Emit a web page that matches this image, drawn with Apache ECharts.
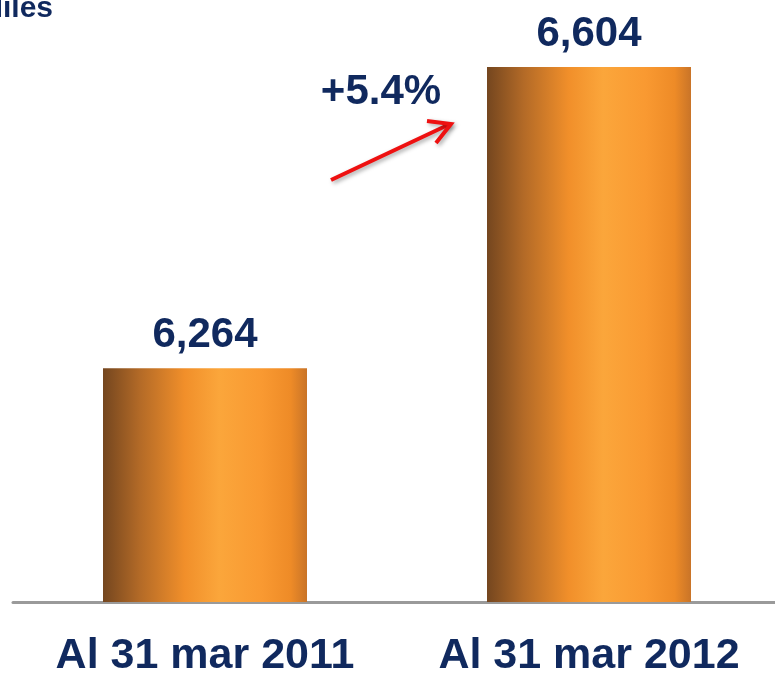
<!DOCTYPE html>
<html>
	<head>
		<meta charset="UTF-8">
		<title>Al 31 mar</title>
		<script src="https://cdn.jsdelivr.net/npm/echarts@6/dist/echarts.min.js"></script>
		<style>
			html, body { margin: 0; padding: 0; background: #fff; }
			#chart { width: 775px; height: 673px; }
		</style>
	</head>
	<body>
		<div id="chart"></div>
		<script type="text/javascript">
			var categories = ['Al 31 mar 2011', 'Al 31 mar 2012'];
			var values = [6264, 6604];
			var changeText = '+5.4%';
			var unitText = 'Miles';

			var navy = '#10295e';
			var font = "'Liberation Sans', Arial, sans-serif";

			// barra con efecto cilindro
			var barColor = new echarts.graphic.LinearGradient(0, 0, 1, 0, [
				{offset: 0, color: '#74461f'},
				{offset: 0.18, color: '#b36a27'},
				{offset: 0.4, color: '#f18f2a'},
				{offset: 0.57, color: '#fba63b'},
				{offset: 0.78, color: '#f99931'},
				{offset: 0.92, color: '#ee8b27'},
				{offset: 1, color: '#c97428'}
			]);

			var myChart = echarts.init(document.getElementById('chart'));

			option = {
				animation: false,
				grid: {
					left: 13,
					right: -6,
					top: 67,
					bottom: 71,
					outerBoundsMode: 'none'
				},
				xAxis: {
					type: 'category',
					data: categories,
					axisTick: {show: false},
					axisLine: {lineStyle: {color: '#9a9a9a', width: 3}},
					axisLabel: {
						interval: 0,
						hideOverlap: false,
						margin: 33,
						color: navy,
						fontFamily: font,
						fontWeight: 'bold',
						fontSize: 43
					}
				},
				yAxis: {
					type: 'value',
					min: 6000,
					max: 6604,
					show: false,
					splitLine: {show: false}
				},
				series: [
					{
						type: 'bar',
						data: values,
						barWidth: 204,
						itemStyle: {color: barColor},
						label: {
							show: true,
							position: 'top',
							distance: 12,
							color: navy,
							fontFamily: font,
							fontWeight: 'bold',
							fontSize: 42,
							formatter: function(p) {
								return p.value.toLocaleString('en-US');
							}
						}
					}
				],
				graphic: [
					{
						type: 'text',
						x: 53,
						y: 24,
						style: {
							text: unitText,
							fill: navy,
							font: 'bold 30px ' + font,
							textAlign: 'right',
							textVerticalAlign: 'bottom'
						}
					},
					{
						type: 'text',
						x: 381,
						y: 92,
						style: {
							text: changeText,
							fill: navy,
							font: 'bold 42px ' + font,
							textAlign: 'center',
							textVerticalAlign: 'middle'
						}
					},
					{
						type: 'polyline',
						shape: {points: [[331, 180], [450, 124]]},
						style: {stroke: '#ee1111', lineWidth: 4, shadowBlur: 4, shadowColor: 'rgba(0,0,0,0.35)', shadowOffsetX: 2, shadowOffsetY: 2}
					},
					{
						type: 'polyline',
						shape: {points: [[427, 121], [451, 124], [436, 143]]},
						style: {stroke: '#ee1111', lineWidth: 4, lineJoin: 'miter', shadowBlur: 4, shadowColor: 'rgba(0,0,0,0.35)', shadowOffsetX: 2, shadowOffsetY: 2}
					}
				]
			};

			myChart.setOption(option);
		</script>
	</body>
</html>
